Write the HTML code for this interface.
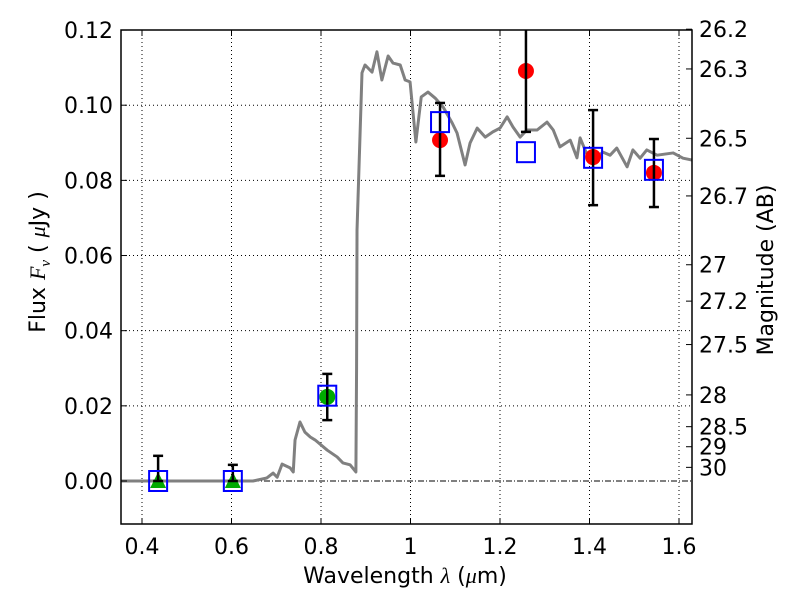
<!DOCTYPE html>
<html><head><meta charset="utf-8"><style>
body{margin:0;background:#fff}
svg text{font-family:"DejaVu Sans","Liberation Sans",sans-serif;font-size:22px;fill:#000}
</style></head><body>
<svg id="chart" width="800" height="600">
<g id="grid"></g>
<g id="plot"></g>
<g id="axes"></g>
<text x="405" y="583" text-anchor="middle">Wavelength  <tspan font-family="Liberation Serif" font-style="italic">λ</tspan> (<tspan font-family="Liberation Serif" font-style="italic">μ</tspan>m)</text>
<text transform="translate(45,262) rotate(-90)" text-anchor="middle">Flux  <tspan font-family="Liberation Serif" font-style="italic">F</tspan><tspan font-family="Liberation Serif" font-style="italic" font-size="15" dy="5">ν</tspan><tspan dy="-5">  ( </tspan><tspan font-family="Liberation Serif" font-style="italic">μ</tspan>Jy )</text>
<text transform="translate(773,270) rotate(-90)" text-anchor="middle">Magnitude (AB)</text>
</svg>
<script>
const specLam=[0.353,0.62,0.648,0.679,0.693,0.702,0.713,0.731,0.738,0.742,0.753,0.764,0.776,0.787,0.814,0.836,0.849,0.865,0.878,0.8795,0.8805,0.8916,0.8983,0.914,0.925,0.936,0.950,0.961,0.977,0.988,0.999,1.012,1.024,1.039,1.055,1.073,1.093,1.104,1.122,1.133,1.149,1.167,1.184,1.200,1.216,1.229,1.245,1.260,1.283,1.305,1.319,1.334,1.357,1.372,1.379,1.395,1.417,1.430,1.446,1.461,1.484,1.497,1.513,1.528,1.551,1.587,1.609,1.629];
const specFlux=[0,0,0,0.0008,0.0021,0.001,0.0045,0.0035,0.0024,0.0109,0.0157,0.013,0.0117,0.0109,0.0082,0.0064,0.0048,0.0043,0.0024,0.03,0.0668,0.1086,0.1107,0.1088,0.1142,0.1067,0.1131,0.1112,0.1107,0.1067,0.1062,0.0902,0.1022,0.1035,0.1019,0.0995,0.0953,0.0926,0.0841,0.0899,0.0939,0.0915,0.0929,0.0939,0.0969,0.0942,0.0915,0.0934,0.0934,0.0955,0.0934,0.0889,0.0907,0.086,0.0913,0.0867,0.0862,0.0875,0.0867,0.0886,0.0836,0.0881,0.0859,0.0881,0.0867,0.0873,0.0859,0.0854];
const modelLam=[0.436,0.603,0.814,1.066,1.258,1.408,1.544];
const modelFlux=[0,0,0.0227,0.0955,0.0875,0.086,0.0828];
const triLam=[0.436,0.603];
const triFlux=[0,0];
const triErrHi=[0.0067,0.0043];
const gcLam=[0.814];
const gcFlux=[0.0224];
const gcErrLo=[0.0162];
const gcErrHi=[0.0285];
const rcLam=[1.066,1.258,1.408,1.544];
const rcFlux=[0.0907,0.1091,0.0862,0.082];
const rcErrLo=[0.0812,0.0929,0.0734,0.0729];
const rcErrHi=[0.1006,0.1253,0.0987,0.091];
const xTicks=[0.4,0.6,0.8,1,1.2,1.4,1.6];
const xTickLabels=["0.4","0.6","0.8","1","1.2","1.4","1.6"];
const yTicks=[0,0.02,0.04,0.06,0.08,0.10,0.12];
const yTickLabels=["0.00","0.02","0.04","0.06","0.08","0.10","0.12"];
const magTicks=[26.2,26.3,26.5,26.7,27,27.2,27.5,28,28.5,29,30];
const magLabels=["26.2","26.3","26.5","26.7","27","27.2","27.5","28","28.5","29","30"];

const L=121,R=692,T=30,B=524;
const X=l=>142+(l-0.4)*447.5;
const Y=f=>481-f*3758;
const NS="http://www.w3.org/2000/svg";
function mk(tag,attrs,parent){const e=document.createElementNS(NS,tag);for(const k in attrs)e.setAttribute(k,attrs[k]);parent.appendChild(e);return e;}
const grid=document.getElementById('grid'),plot=document.getElementById('plot'),axes=document.getElementById('axes');
xTicks.forEach((t,i)=>{
 const g=mk('line',{x1:X(t),x2:X(t),y1:T,y2:B,stroke:'#000','stroke-width':1,'stroke-dasharray':'1,3'},grid);
 
 
 mk('line',{x1:X(t),x2:X(t),y1:B,y2:B-6,stroke:'#000'},axes);
 mk('line',{x1:X(t),x2:X(t),y1:T,y2:T+6,stroke:'#000'},axes);
 const tx=mk('text',{x:X(t),y:B+30,'text-anchor':'middle'},axes);tx.textContent=xTickLabels[i];
 
 
});
yTicks.forEach((t,i)=>{
 if(t>0&&t<0.12){const g=mk('line',{x1:L,x2:R,y1:Y(t),y2:Y(t),stroke:'#000','stroke-width':1,'stroke-dasharray':'1,3'},grid);
 
 }
 mk('line',{x1:L,x2:L+6,y1:Y(t),y2:Y(t),stroke:'#000'},axes);
 const tx=mk('text',{x:L-8,y:Y(t)+8,'text-anchor':'end'},axes);tx.textContent=yTickLabels[i];
 
 
});
const zl=mk('line',{x1:L,x2:R,y1:Y(0),y2:Y(0),stroke:'#000','stroke-width':1,'stroke-dasharray':'6,2,1,2'},grid);


magTicks.forEach((m,i)=>{
 const f=Math.pow(10,(23.9-m)/2.5);const y=Y(f);
 mk('line',{x1:R,x2:R-6,y1:y,y2:y,stroke:'#000'},axes);
 const tx=mk('text',{x:R+7,y:y+8},axes);tx.textContent=magLabels[i];
 
 
});
const cp=mk('clipPath',{id:'clip'},plot);mk('rect',{x:L,y:T,width:R-L,height:B-T},cp);
const pg=mk('g',{'clip-path':'url(#clip)'},plot);
const sp=mk('polyline',{points:specLam.map((l,i)=>X(l)+','+Y(specFlux[i])).join(' '),fill:'none',stroke:'#808080','stroke-width':3,'stroke-linejoin':'round'},pg);


function ebar(x,y1,y2){mk('line',{x1:x,x2:x,y1:y1,y2:y2,stroke:'#000','stroke-width':2.5},pg);
 [y1,y2].forEach(y=>mk('line',{x1:x-5,x2:x+5,y1:y,y2:y,stroke:'#000','stroke-width':2.5},pg));}
triLam.forEach((l,i)=>{const x=X(l),y=Y(triFlux[i]);
 const t=mk('polygon',{points:`${x},${y-9} ${x-8},${y+7} ${x+8},${y+7}`,fill:'#00aa00'},pg);
 
 
 ebar(x,Y(triErrHi[i]),y);});
gcLam.forEach((l,i)=>{const c=mk('circle',{cx:X(l),cy:Y(gcFlux[i]),r:8,fill:'#00aa00'},pg);
 
 
 ebar(X(l),Y(gcErrHi[i]),Y(gcErrLo[i]));});
rcLam.forEach((l,i)=>{const c=mk('circle',{cx:X(l),cy:Y(rcFlux[i]),r:8,fill:'#ff0000'},pg);
 
 
 ebar(X(l),Y(rcErrHi[i]),Y(rcErrLo[i]));});
modelLam.forEach((l,i)=>{const s=mk('rect',{x:X(l)-9,y:Y(modelFlux[i])-10,width:18,height:20,fill:'none',stroke:'#0000ff','stroke-width':2},pg);
 
 });
const fr=mk('rect',{x:L,y:T,width:R-L,height:B-T,fill:'none',stroke:'#000','stroke-width':1.5},axes);


</script>
</body></html>
